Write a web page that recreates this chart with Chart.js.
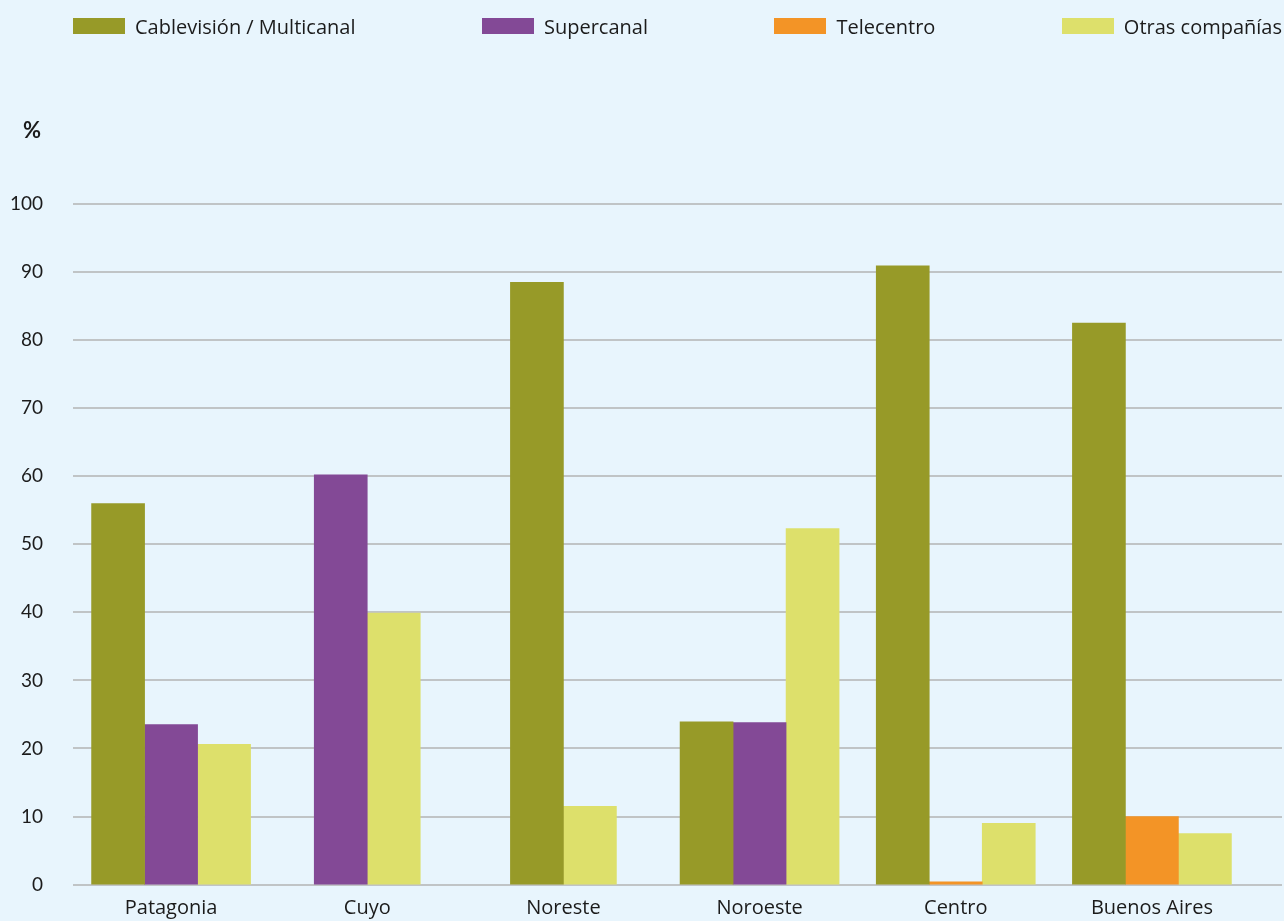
<!DOCTYPE html>
<html lang="es">
<head>
<meta charset="utf-8">
<script src="https://cdn.jsdelivr.net/npm/chart.js@4/dist/chart.umd.min.js"></script>
<style>
  html, body { margin: 0; padding: 0; background: #e8f5fd; overflow: hidden; }
  #wrap { position: relative; width: 1284px; height: 921px; overflow: hidden; }
  #legend {
    position: absolute; top: 14px; left: 73px; right: 2px;
    display: flex; justify-content: space-between;
    font-family: "Open Sans", sans-serif; font-size: 20px; color: #1b1b1b;
  }
  #legend .item { display: flex; align-items: center; height: 24px; white-space: nowrap; }
  #legend .box { width: 52px; height: 16px; margin-right: 10px; }
  #unit {
    position: absolute; left: 23px; top: 116px;
    font-family: Lato, sans-serif; font-size: 22px; font-weight: bold; color: #1b1b1b;
  }
</style>
</head>
<body>
<div id="wrap">
  <!-- a bit taller than the frame: the category labels are cut at the bottom in the original -->
  <canvas id="chart" width="1284" height="926"></canvas>
  <div id="legend"></div>
  <div id="unit">%</div>
</div>
<script>
const regiones = ['Patagonia', 'Cuyo', 'Noreste', 'Noroeste', 'Centro', 'Buenos Aires'];
const seriesNames = ['Cablevisión / Multicanal', 'Supercanal', 'Telecentro', 'Otras compañías'];
const cablevision = [56, null, 88.5, 23.9, 90.9, 82.5];
const supercanal = [23.5, 60.2, null, 23.8, null, null];
const telecentro = [null, null, null, null, 0.4, 10];
const otras = [20.6, 39.9, 11.5, 52.3, 9.0, 7.5];
const yTicks = [0, 10, 20, 30, 40, 50, 60, 70, 80, 90, 100];

const colors = ['#979a28', '#834996', '#f39426', '#dde06b'];
const values = [cablevision, supercanal, telecentro, otras];

// grid lines run a little past the plot area on the right, like the original
const gridLines = {
    id: 'gridLines',
    beforeDatasetsDraw(chart) {
        const { ctx, chartArea, scales: { y } } = chart;
        ctx.save();
        ctx.strokeStyle = '#b3b3b3';
        ctx.lineWidth = 1.5;
        y.ticks.forEach(t => {
            const py = Math.round(y.getPixelForValue(t.value));
            ctx.beginPath();
            ctx.moveTo(chartArea.left, py);
            ctx.lineTo(chart.width - 2, py);
            ctx.stroke();
        });
        ctx.restore();
    }
};

const chart = new Chart(document.getElementById('chart').getContext('2d'), {
    type: 'bar',
    data: {
        labels: regiones,
        datasets: seriesNames.map((name, i) => ({
            label: name,
            data: values[i],
            backgroundColor: colors[i],
            borderWidth: 0,
            barThickness: 53,
            skipNull: true
        }))
    },
    options: {
        responsive: false,
        animation: false,
        layout: { padding: { top: 204, right: 34, bottom: -12, left: 0 } },
        plugins: {
            legend: { display: false },
            tooltip: { enabled: false }
        },
        scales: {
            x: {
                grid: { display: false, drawTicks: false },
                border: { display: false },
                ticks: {
                    padding: 12,
                    color: '#1b1b1b',
                    font: { family: '"Open Sans", sans-serif', size: 20 }
                }
            },
            y: {
                min: 0,
                max: 100,
                afterBuildTicks: (scale) => { scale.ticks = yTicks.map(v => ({ value: v })); },
                afterFit: (scale) => { scale.width = 73; },
                grid: { display: false, drawTicks: false },
                border: { display: false },
                ticks: {
                    padding: 30,
                    color: '#1b1b1b',
                    font: { family: 'Lato, sans-serif', size: 19 }
                }
            }
        }
    },
    plugins: [gridLines]
});

// html legend from the datasets
const legendEl = document.getElementById('legend');
chart.data.datasets.forEach(ds => {
    const item = document.createElement('div');
    item.className = 'item';
    const box = document.createElement('span');
    box.className = 'box';
    box.style.background = ds.backgroundColor;
    const txt = document.createElement('span');
    txt.textContent = ds.label;
    item.appendChild(box);
    item.appendChild(txt);
    legendEl.appendChild(item);
});
</script>
</body>
</html>
